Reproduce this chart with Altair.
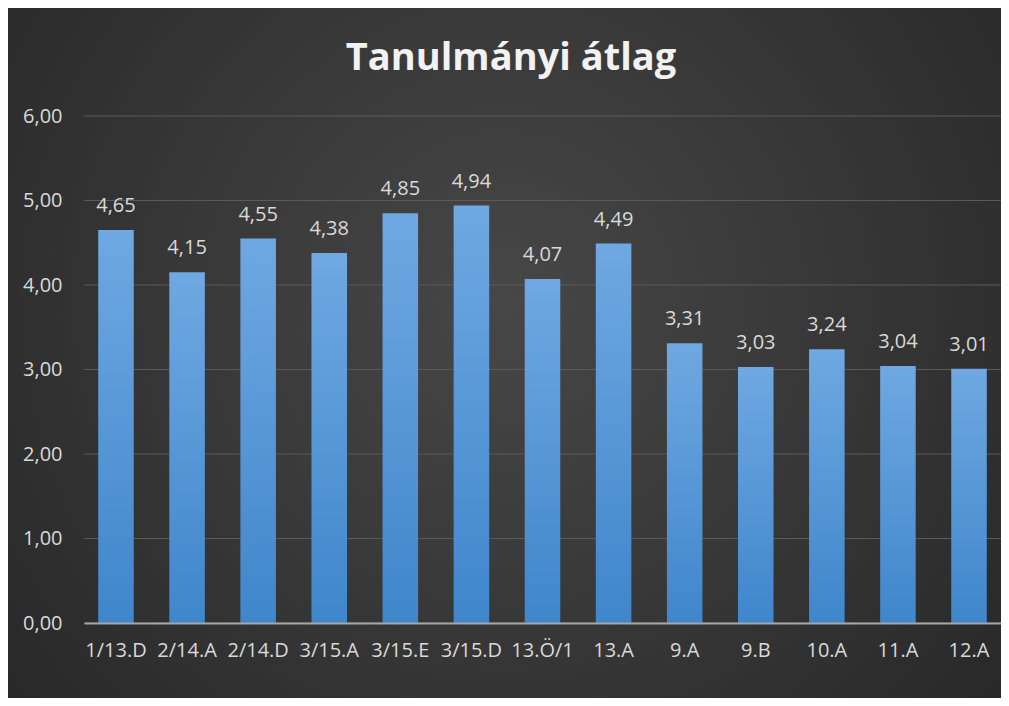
import altair as alt
import pandas as pd

categories = ["1/13.D", "2/14.A", "2/14.D", "3/15.A", "3/15.E", "3/15.D",
              "13.Ö/1", "13.A", "9.A", "9.B", "10.A", "11.A", "12.A"]
values = [4.65, 4.15, 4.55, 4.38, 4.85, 4.94, 4.07, 4.49, 3.31, 3.03, 3.24, 3.04, 3.01]
y_ticks = [0, 1, 2, 3, 4, 5, 6]
title_text = "Tanulmányi átlag"

df = pd.DataFrame({"osztaly": categories, "atlag": values})
grid_df = pd.DataFrame({"atlag": y_ticks})

W, H = 917, 507
PAD = {"left": 76, "top": 108, "right": 0, "bottom": 75}
FONT = "Open Sans"
LBL = "#d9d9d9"

yscale = alt.Scale(domain=[0, 6], nice=False)
yaxis = alt.Axis(title=None, values=y_ticks, domain=False, ticks=False,
                 grid=False, labelColor=LBL, labelFont=FONT,
                 labelFontSize=20, labelPadding=22, zindex=1,
                 labelExpr="replace(format(datum.value, '.2f'), '.', ',')")

bg = alt.Chart(pd.DataFrame({"k": [0]})).mark_rect(
    color=alt.Gradient(
        gradient="radial",
        stops=[alt.GradientStop(color="#474747", offset=0),
               alt.GradientStop(color="#2c2c2c", offset=0.75),
               alt.GradientStop(color="#242424", offset=1)],
        x1=0.5, y1=0.45, x2=0.5, y2=0.45, r1=0, r2=0.75,
    )
).encode(
    x=alt.value(-PAD["left"]), x2=alt.value(W + PAD["right"]),
    y=alt.value(-PAD["top"]), y2=alt.value(H + PAD["bottom"]),
)

grid = alt.Chart(grid_df).mark_rule(color="#5a5a5a", strokeWidth=1).encode(
    y=alt.Y("atlag:Q", scale=yscale, axis=yaxis),
    x=alt.value(0), x2=alt.value(W),
)

xenc = alt.X("osztaly:N", sort=categories,
             scale=alt.Scale(paddingInner=0.5, paddingOuter=0.2),
             axis=alt.Axis(title=None, labelAngle=0, ticks=False, domain=True,
                           domainColor="#a6a6a6", domainWidth=2,
                           labelColor=LBL, labelFont=FONT, labelFontSize=20,
                           labelPadding=17, grid=False, zindex=1))

bars = alt.Chart(df).mark_bar(
    color=alt.Gradient(
        gradient="linear",
        stops=[alt.GradientStop(color="#6fa8e2", offset=0),
               alt.GradientStop(color="#3f86cb", offset=1)],
        x1=0, y1=0, x2=0, y2=1,
    )
).encode(x=xenc, y=alt.Y("atlag:Q", scale=yscale, axis=yaxis))

labels = alt.Chart(df).transform_calculate(
    lab="replace(format(datum.atlag, '.2f'), '.', ',')"
).mark_text(
    baseline="alphabetic", dy=-18, font=FONT, fontSize=20, color=LBL
).encode(x=alt.X("osztaly:N", sort=categories),
         y=alt.Y("atlag:Q", scale=yscale, axis=yaxis),
         text="lab:N")

title = alt.Chart(pd.DataFrame({"t": [title_text]})).mark_text(
    font=FONT, fontSize=38, fontWeight="bold", color="#f2f2f2",
    align="center", baseline="alphabetic",
).encode(x=alt.value(427), y=alt.value(-46), text="t:N")

chart = alt.layer(bg, grid, bars, labels, title).properties(
    width=W, height=H,
    padding=PAD,
    autosize=alt.AutoSizeParams(type="none"),
    background="#2b2b2b",
).configure_view(stroke=None)

chart.save("out.html", embed_options={"renderer": "svg", "actions": False})
